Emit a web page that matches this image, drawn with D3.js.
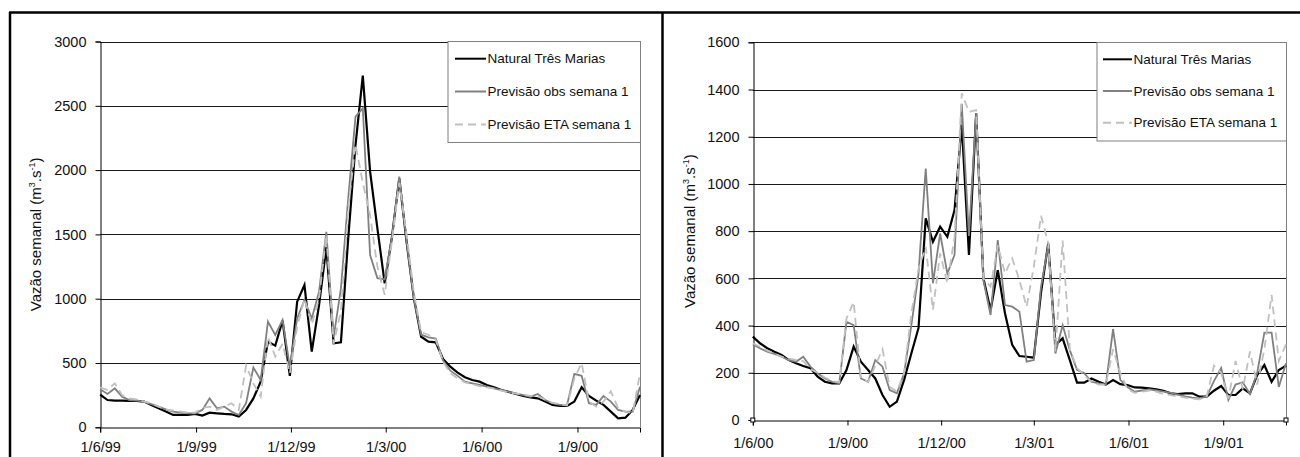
<!DOCTYPE html>
<html>
<head>
<meta charset="utf-8">
<script src="https://cdn.jsdelivr.net/npm/d3@7"></script>
<style>
html,body{margin:0;padding:0;background:#fff;}
svg{display:block;}
text{font-family:"Liberation Sans",Arial,sans-serif;fill:#111;}
</style>
</head>
<body>
<svg id="chart" width="1300" height="457"></svg>
<script>
// ---------- DATA (weekly values, m3/s) ----------
const leftStart = "1999-06-01";
const rightStart = "2000-06-01";
const leftTickLabels = ["1999-06-01","1999-09-01","1999-12-01","2000-03-01","2000-06-01","2000-09-01"];
const rightTickLabels = ["2000-06-01","2000-09-01","2000-12-01","2001-03-01","2001-06-01","2001-09-01"];
const leftYTicks = [0,500,1000,1500,2000,2500,3000];
const rightYTicks = [0,200,400,600,800,1000,1200,1400,1600];
const seriesNames = ["Natural Três Marias","Previsão obs semana 1","Previsão ETA semana 1"];

const leftNatural = [255,212,207,207,205,205,200,174,148,122,96,96,96,104,91,114,109,104,101,83,135,225,355,666,635,830,400,977,1107,588,950,1400,653,661,1469,2195,2734,1988,1547,1119,1482,1936,1443,1003,704,666,661,531,471,425,389,368,355,329,311,290,275,259,244,233,225,200,174,166,166,200,311,244,207,174,122,70,75,135,251];
const leftObs = [295,259,303,238,212,207,200,181,161,140,122,114,109,109,135,225,148,161,122,96,187,465,368,822,718,835,470,847,990,847,1055,1520,700,1080,1780,2415,2480,1340,1160,1150,1480,1950,1450,1000,720,700,690,520,440,400,355,342,329,316,303,290,275,264,251,238,259,212,187,174,174,415,400,187,174,244,200,135,122,122,316];
const leftEta = [311,290,342,251,225,218,200,187,161,140,130,122,114,114,148,161,135,161,187,135,480,342,238,705,550,650,420,780,1000,800,1000,1500,650,900,1700,2200,1900,1650,1250,1030,1450,1900,1500,1050,740,720,680,510,420,380,350,335,320,310,300,285,270,262,255,245,240,215,190,180,170,380,500,200,160,200,280,150,120,110,420];

const rightNatural = [353,325,304,289,275,254,240,229,219,184,162,155,155,212,311,247,212,176,106,56,78,170,282,390,854,755,819,776,889,1250,699,1299,600,466,635,452,318,271,268,264,540,748,318,346,254,158,158,176,162,150,169,152,148,138,137,134,130,124,113,110,113,113,99,99,124,144,106,106,134,113,190,233,162,212,230];
const rightObs = [320,304,289,280,268,254,247,268,226,198,176,162,155,416,402,176,162,254,226,127,113,198,400,620,1065,580,790,620,700,1340,780,1300,593,445,762,487,480,459,247,254,565,740,282,402,296,212,198,162,155,150,385,170,140,120,125,130,125,120,115,108,100,95,92,100,165,220,85,150,160,110,200,370,370,140,240];
const rightEta = [325,310,295,282,268,260,255,250,215,200,180,165,160,430,500,180,160,230,300,140,120,200,450,640,734,466,706,579,776,1384,1306,1313,600,565,740,621,685,593,480,650,865,750,290,760,300,220,190,160,150,150,300,200,130,115,120,125,120,110,105,100,95,90,88,100,230,200,90,250,130,290,150,300,530,250,320];

// ---------- DRAW ----------
const svg = d3.select("#chart");
const parse = d3.utcParse("%Y-%m-%d");
const fmt = d3.utcFormat("%-d/%-m/%y");

// outer frame
const frame = svg.append("g").attr("stroke","#000").attr("stroke-width",2.5);
frame.append("line").attr("x1",9).attr("x2",1300).attr("y1",12.5).attr("y2",12.5);
frame.append("line").attr("x1",10).attr("x2",10).attr("y1",12).attr("y2",457);
frame.append("line").attr("x1",662.5).attr("x2",662.5).attr("y1",12).attr("y2",457);

const styles = [
  {color:"#000", width:2.2, dash:null},
  {color:"#808080", width:1.8, dash:null},
  {color:"#c0c0c0", width:1.8, dash:"8,5"}
];

function panel(cfg){
  const g = svg.append("g");
  const start = parse(cfg.start);
  const dates = cfg.series[0].map((d,i)=>d3.utcDay.offset(start, 7*i));
  const x = d3.scaleUtc().domain([start, d3.utcDay.offset(start, 518)]).range([cfg.x0, cfg.x1]);
  const y = d3.scaleLinear().domain([0, d3.max(cfg.yTicks)]).range([cfg.y0, cfg.y1]);

  // gridlines
  g.append("g").selectAll("line").data(cfg.yTicks.filter(v=>v>0)).join("line")
    .attr("x1",cfg.x0).attr("x2",cfg.x1)
    .attr("y1",d=>Math.round(y(d))+0.5).attr("y2",d=>Math.round(y(d))+0.5)
    .attr("stroke","#1a1a1a").attr("stroke-width",1);
  // right border of plot area
  g.append("line").attr("x1",cfg.x1+0.5).attr("x2",cfg.x1+0.5)
    .attr("y1",y(d3.max(cfg.yTicks))).attr("y2",cfg.y0)
    .attr("stroke","#808080").attr("stroke-width",1);

  // y axis
  const ya = g.append("g").attr("transform",`translate(${Math.round(cfg.x0)+0.5},0)`)
    .call(d3.axisLeft(y).tickValues(cfg.yTicks).tickSize(5).tickPadding(9).tickFormat(d3.format("d")));
  ya.select(".domain").attr("stroke","#000");
  ya.selectAll(".tick line").attr("stroke","#000");
  ya.selectAll("text").attr("font-size","14.5px").attr("font-family","Liberation Sans, Arial, sans-serif").attr("fill","#111");

  // x axis
  const xa = g.append("g").attr("transform",`translate(0,${Math.round(cfg.y0)+0.5})`)
    .call(d3.axisBottom(x).tickValues(cfg.xTicks.map(parse)).tickSize(5).tickPadding(cfg.xPad).tickFormat(fmt));
  xa.select(".domain").attr("stroke","#000");
  xa.selectAll(".tick line").attr("stroke","#000");
  xa.selectAll("text").attr("font-size","14.5px").attr("font-family","Liberation Sans, Arial, sans-serif").attr("fill","#111");

  // lines
  const line = d3.line().x((d,i)=>x(dates[i])).y(d=>y(d));
  cfg.series.forEach((s,k)=>{
    g.append("path").datum(s).attr("d",line).attr("fill","none")
      .attr("stroke",styles[k].color).attr("stroke-width",styles[k].width)
      .attr("stroke-linejoin","miter").attr("stroke-dasharray",styles[k].dash);
  });

  // axis title
  const t = g.append("text").attr("transform",`translate(${cfg.titleX},${(cfg.y0+cfg.y1)/2}) rotate(-90)`)
    .attr("text-anchor","middle").attr("font-size","15px");
  t.append("tspan").text("Vazão semanal (m");
  t.append("tspan").attr("font-size","9px").attr("dy","-6").text("3");
  t.append("tspan").attr("dy","6").text(".s");
  t.append("tspan").attr("font-size","9px").attr("dy","-6").text("-1");
  t.append("tspan").attr("dy","6").text(")");

  // legend
  const L = cfg.legend;
  const lg = g.append("g");
  lg.append("rect").attr("x",L.x+0.5).attr("y",L.y+0.5).attr("width",L.w).attr("height",L.h)
    .attr("fill","#fff").attr("stroke","#808080").attr("stroke-width",1);
  seriesNames.forEach((name,k)=>{
    const cy = L.rows[k];
    lg.append("line").attr("x1",L.lx0).attr("x2",L.lx1).attr("y1",cy).attr("y2",cy)
      .attr("stroke",styles[k].color).attr("stroke-width",2).attr("stroke-dasharray",styles[k].dash);
    lg.append("text").attr("x",L.lx1+1.5).attr("y",cy).attr("dy","0.35em")
      .attr("font-size","13.5px").text(name);
  });

  // selection handles (right panel only)
  if (cfg.handles) {
    [[cfg.x0, cfg.y0],[cfg.x1, cfg.y0]].forEach(([hx,hy])=>{
      g.append("rect").attr("x",hx-2).attr("y",hy-2).attr("width",4).attr("height",4)
        .attr("fill","#fff").attr("stroke","#000").attr("stroke-width",1);
    });
  }
}

panel({
  start:leftStart, xTicks:leftTickLabels, yTicks:leftYTicks,
  series:[leftNatural,leftObs,leftEta],
  x0:100.2, x1:640, y0:427.3, y1:41.5, titleX:41, xPad:9.5,
  legend:{x:447.5,y:41,w:192.5,h:101,rows:[58.7,91.5,124.5],lx0:455,lx1:486}
});
panel({
  start:rightStart, xTicks:rightTickLabels, yTicks:rightYTicks,
  series:[rightNatural,rightObs,rightEta],
  x0:752.8, x1:1286, y0:420, y1:42.3, titleX:695, xPad:12.5, handles:true,
  legend:{x:1096.5,y:42,w:189.5,h:98.5,rows:[59.3,91,122.7],lx0:1103,lx1:1132}
});
</script>
</body>
</html>
